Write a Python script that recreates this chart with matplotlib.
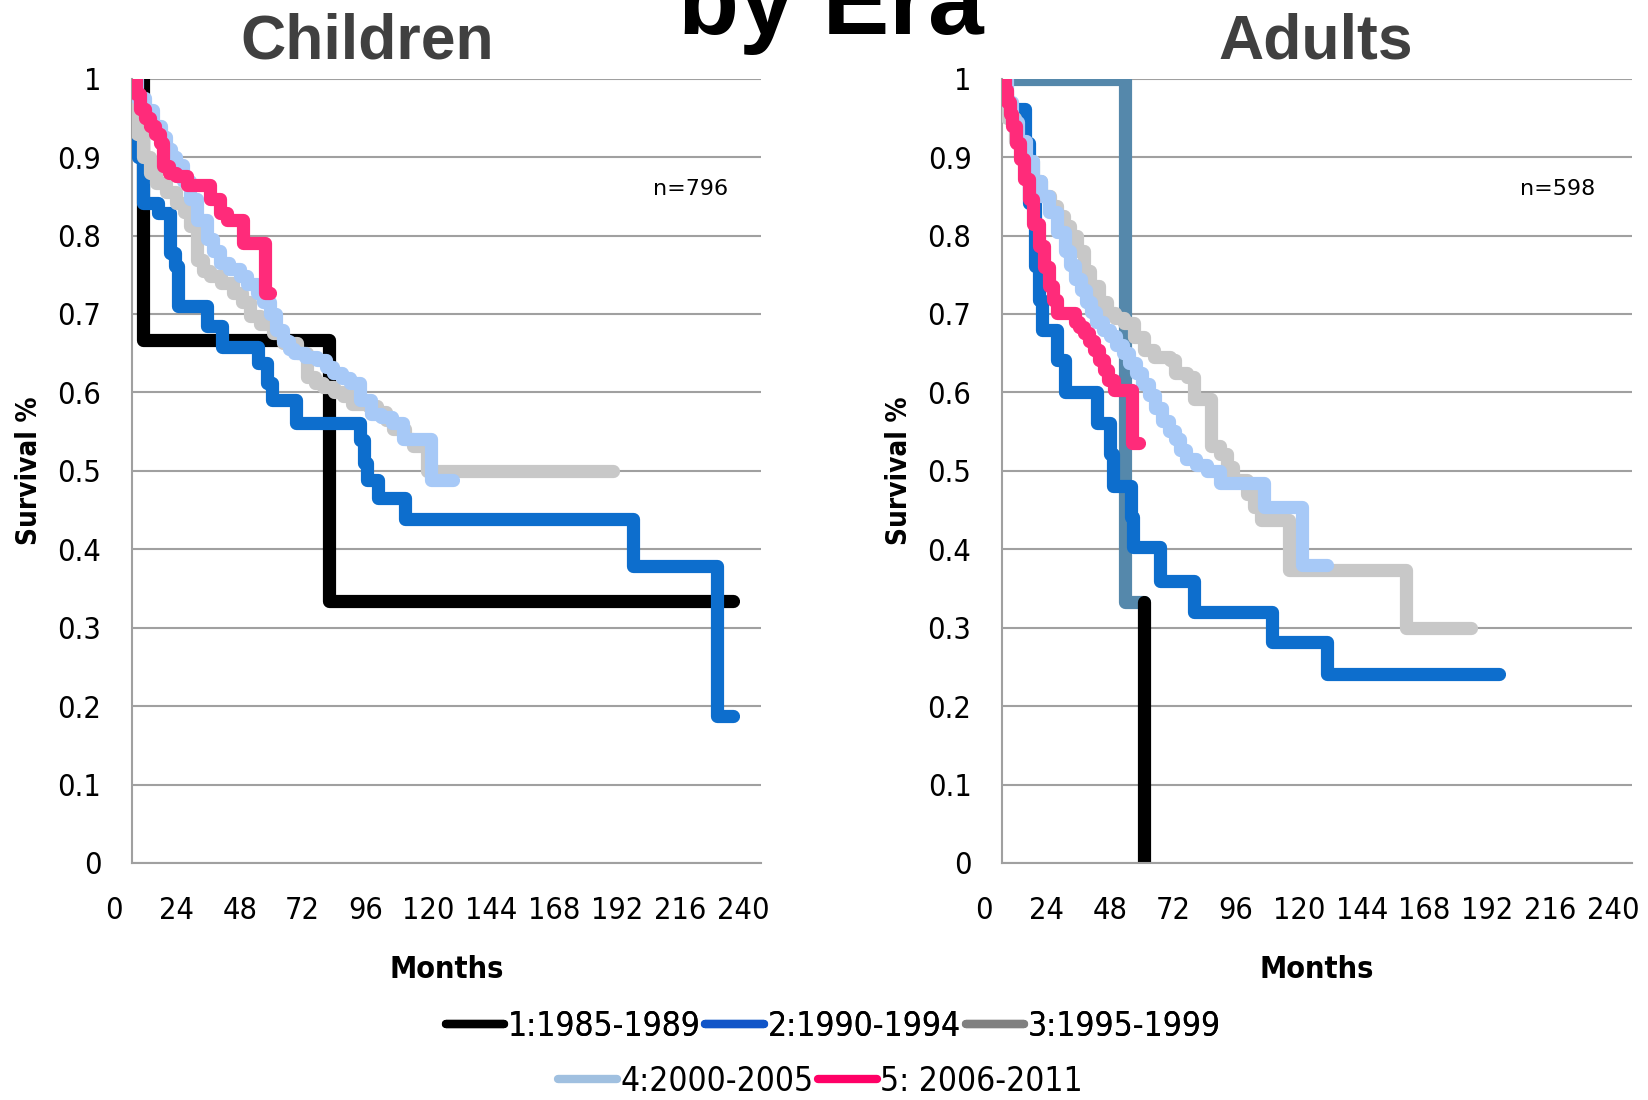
import matplotlib
matplotlib.use('Agg')
import matplotlib.pyplot as plt
from matplotlib.lines import Line2D
from matplotlib.transforms import ScaledTranslation
from matplotlib import font_manager
import numpy as np

# Kaplan-Meier curves (months, survival)
ch1_t = [0, 4.3, 75, 229]
ch1_s = [1.0, 0.667, 0.334, 0.334]
ch2_t = [0, 2.4, 4.3, 10.0, 14.5, 16.4, 17.7, 28.5, 34.2, 48.2, 51.4, 53.3, 62.5, 87, 88.5, 89.5, 94, 104, 191, 223, 229]
ch2_s = [0.96, 0.90, 0.842, 0.829, 0.778, 0.761, 0.710, 0.684, 0.658, 0.637, 0.612, 0.590, 0.561, 0.539, 0.510, 0.488, 0.465, 0.439, 0.378, 0.188, 0.188]
ch3_t = [0, 2, 4.3, 7, 9.4, 13, 17, 20, 22, 24.7, 27, 29.8, 34, 38.7, 42, 45, 49, 53.9, 57.7, 62.8, 66.6, 70, 73, 77, 80.6, 84, 90, 93.4, 97, 99.7, 104, 107.3, 112.4, 183.6]
ch3_s = [0.97, 0.93, 0.90, 0.88, 0.867, 0.855, 0.842, 0.83, 0.812, 0.769, 0.755, 0.748, 0.74, 0.727, 0.715, 0.697, 0.687, 0.676, 0.663, 0.650, 0.620, 0.612, 0.607, 0.60, 0.595, 0.585, 0.582, 0.575, 0.565, 0.553, 0.54, 0.531, 0.50, 0.50]
ch4_t = [0, 2, 5, 8, 11, 13.2, 15, 17, 19.5, 22, 25, 28.5, 31, 33.6, 37, 41.2, 44, 47.6, 50, 52.7, 55, 57.7, 60, 62, 66, 70.5, 74, 76.8, 80, 83.2, 87, 91, 95, 99, 103.5, 114, 122.5]
ch4_s = [1.0, 0.975, 0.96, 0.94, 0.925, 0.91, 0.90, 0.89, 0.87, 0.846, 0.82, 0.795, 0.78, 0.765, 0.757, 0.748, 0.738, 0.727, 0.715, 0.700, 0.68, 0.665, 0.655, 0.650, 0.645, 0.641, 0.632, 0.625, 0.618, 0.612, 0.59, 0.573, 0.568, 0.561, 0.54, 0.488, 0.488]
ch5_t = [0, 1.5, 3, 5, 6.9, 9, 10.7, 11.9, 14, 17, 20.9, 29.8, 33.6, 36.1, 42.5, 50.7, 52.7]
ch5_s = [1.0, 0.98, 0.961, 0.95, 0.94, 0.93, 0.918, 0.888, 0.88, 0.876, 0.865, 0.846, 0.829, 0.82, 0.791, 0.727, 0.727]

ad1_t = [0, 47, 54, 54]
ad1_s = [1.0, 0.333, 0.333, 0.0]
ad2_t = [0, 8.9, 10.2, 12.7, 14, 15.3, 21, 24, 36.2, 41.3, 42.5, 49, 50, 60.4, 73.1, 103, 124, 189.5]
ad2_s = [0.961, 0.918, 0.842, 0.761, 0.718, 0.680, 0.641, 0.601, 0.561, 0.522, 0.48, 0.441, 0.403, 0.36, 0.32, 0.282, 0.241, 0.241]
ad3_t = [0, 2, 5, 8, 12, 15, 18.4, 21, 23.5, 26, 28.6, 31.1, 33.7, 37, 40, 43, 46.4, 50.2, 54, 58, 64.2, 66, 70.6, 73.1, 79.5, 83.3, 85.8, 88, 93.5, 96, 98.6, 109.4, 153.9, 178.7]
ad3_s = [0.98, 0.95, 0.92, 0.895, 0.87, 0.85, 0.837, 0.825, 0.812, 0.80, 0.78, 0.755, 0.735, 0.715, 0.701, 0.695, 0.688, 0.671, 0.654, 0.645, 0.641, 0.625, 0.620, 0.592, 0.531, 0.522, 0.505, 0.488, 0.471, 0.454, 0.437, 0.373, 0.299, 0.299]
ad4_t = [0, 2, 4, 6, 9, 12, 15, 18, 21, 24, 26, 28, 30, 32, 34, 36, 38.5, 41, 43.5, 46, 48.5, 51, 53.5, 56, 58.5, 61, 63.5, 66, 68, 70, 74, 78, 83, 100, 114.5, 124]
ad4_s = [1.0, 0.97, 0.945, 0.92, 0.895, 0.87, 0.85, 0.83, 0.805, 0.78, 0.762, 0.745, 0.73, 0.715, 0.702, 0.69, 0.68, 0.672, 0.661, 0.65, 0.638, 0.625, 0.611, 0.597, 0.58, 0.563, 0.551, 0.54, 0.527, 0.515, 0.507, 0.50, 0.484, 0.454, 0.38, 0.38]
ad5_t = [0, 1, 2, 3, 4, 5.5, 7, 8.5, 10.2, 12, 14, 16, 17.8, 19.5, 21, 28, 29.5, 31.1, 33, 35, 37, 38.8, 40.5, 42.6, 49.6, 52.1]
ad5_s = [1.0, 0.985, 0.97, 0.955, 0.94, 0.918, 0.897, 0.872, 0.846, 0.815, 0.786, 0.76, 0.735, 0.718, 0.701, 0.69, 0.683, 0.676, 0.665, 0.654, 0.641, 0.629, 0.616, 0.603, 0.535, 0.535]

eras = ['1:1985-1989', '2:1990-1994', '3:1995-1999', '4:2000-2005', '5: 2006-2011']
line_cols = ['#000000', '#0d6ecd', '#c8c8c8', '#a7c9f7', '#ff2b7a']
leg_cols = ['#000000', '#1155c8', '#808080', '#a0c0e0', '#ff0066']
xticks = list(range(0, 241, 24))
yticks = [0, 0.1, 0.2, 0.3, 0.4, 0.5, 0.6, 0.7, 0.8, 0.9, 1]
ylabels = ['0', '0.1', '0.2', '0.3', '0.4', '0.5', '0.6', '0.7', '0.8', '0.9', '1']


def fp(size, bold=False):
    return font_manager.FontProperties(family='DejaVu Sans', stretch='condensed',
                                       weight='bold' if bold else 'normal', size=size)


grid_c = '#a0a0a0'

fig = plt.figure(figsize=(16.48, 11), dpi=100)
ax1 = fig.add_axes([0.080, 0.2155, 0.382, 0.713])
ax2 = fig.add_axes([0.608, 0.2155, 0.382, 0.713])

kw = dict(lw=9.5, drawstyle='steps-post', solid_capstyle='round', solid_joinstyle='round')

children = [(ch1_t, ch1_s), (ch2_t, ch2_s), (ch3_t, ch3_s), (ch4_t, ch4_s), (ch5_t, ch5_s)]
for i, (t, s) in enumerate(children):
    ax1.plot(t, s, color=line_cols[i], zorder=3 + i, **kw)

ax2.plot(ad1_t[:3], ad1_s[:3], color='#5588ab', zorder=2, **kw)
ax2.plot(ad1_t[2:], ad1_s[2:], color='#000000', zorder=2, **kw)
adults = [(ad2_t, ad2_s), (ad3_t, ad3_s), (ad4_t, ad4_s), (ad5_t, ad5_s)]
for i, (t, s) in enumerate(adults):
    ax2.plot(t, s, color=line_cols[i + 1], zorder=4 + i, **kw)

shift = ScaledTranslation(-18 / 100, 0, fig.dpi_scale_trans)
for ax in (ax1, ax2):
    ax.set_xlim(0, 240)
    ax.set_ylim(0, 1)
    ax.set_xticks(xticks)
    ax.set_xticklabels([str(x) for x in xticks], fontproperties=fp(22))
    ax.set_yticks(yticks)
    ax.set_yticklabels(ylabels, fontproperties=fp(22))
    ax.tick_params(axis='y', length=0, pad=22)
    ax.tick_params(axis='x', length=0, pad=24)
    for lab in ax.get_xticklabels():
        lab.set_transform(lab.get_transform() + shift)
    ax.yaxis.grid(True, color=grid_c, lw=1.5)
    ax.set_axisbelow(True)
    for side in ('top', 'right'):
        ax.spines[side].set_visible(False)
    for side in ('left', 'bottom'):
        ax.spines[side].set_color(grid_c)
        ax.spines[side].set_linewidth(1.5)

ax1.text(213, 0.859, 'n=796', fontsize=16, ha='center', va='center')
ax2.text(212, 0.859, 'n=598', fontsize=16, ha='center', va='center')

fig.text(0.504, 0.9695, 'by Era', fontsize=72, fontweight='bold', ha='center', va='baseline',
         family='Liberation Sans')
fig.text(0.2227, 0.947, 'Children', fontsize=45, fontweight='bold', color='#404040',
         ha='center', va='baseline', family='Liberation Sans')
fig.text(0.7985, 0.947, 'Adults', fontsize=45, fontweight='bold', color='#404040',
         ha='center', va='baseline', family='Liberation Sans')

for x in (0.0179, 0.5453):
    fig.text(x, 0.572, 'Survival %', rotation=90, fontproperties=fp(20, True),
             ha='center', va='center')
for x in (0.2711, 0.799):
    fig.text(x, 0.119, 'Months', fontproperties=fp(22, True), ha='center', va='center')

handles = [Line2D([], [], color=c, lw=6, solid_capstyle='round') for c in leg_cols]
leg_kw = dict(loc='center', frameon=False, handlelength=1.76, handletextpad=0.1,
              columnspacing=0.15, prop=fp(24))
leg1 = fig.legend(handles[:3], eras[:3], bbox_to_anchor=(0.5055, 0.067), ncol=3, **leg_kw)
fig.add_artist(leg1)
fig.legend(handles[3:], eras[3:], bbox_to_anchor=(0.498, 0.017), ncol=2, **leg_kw)

fig.savefig('out.png', dpi=100)
